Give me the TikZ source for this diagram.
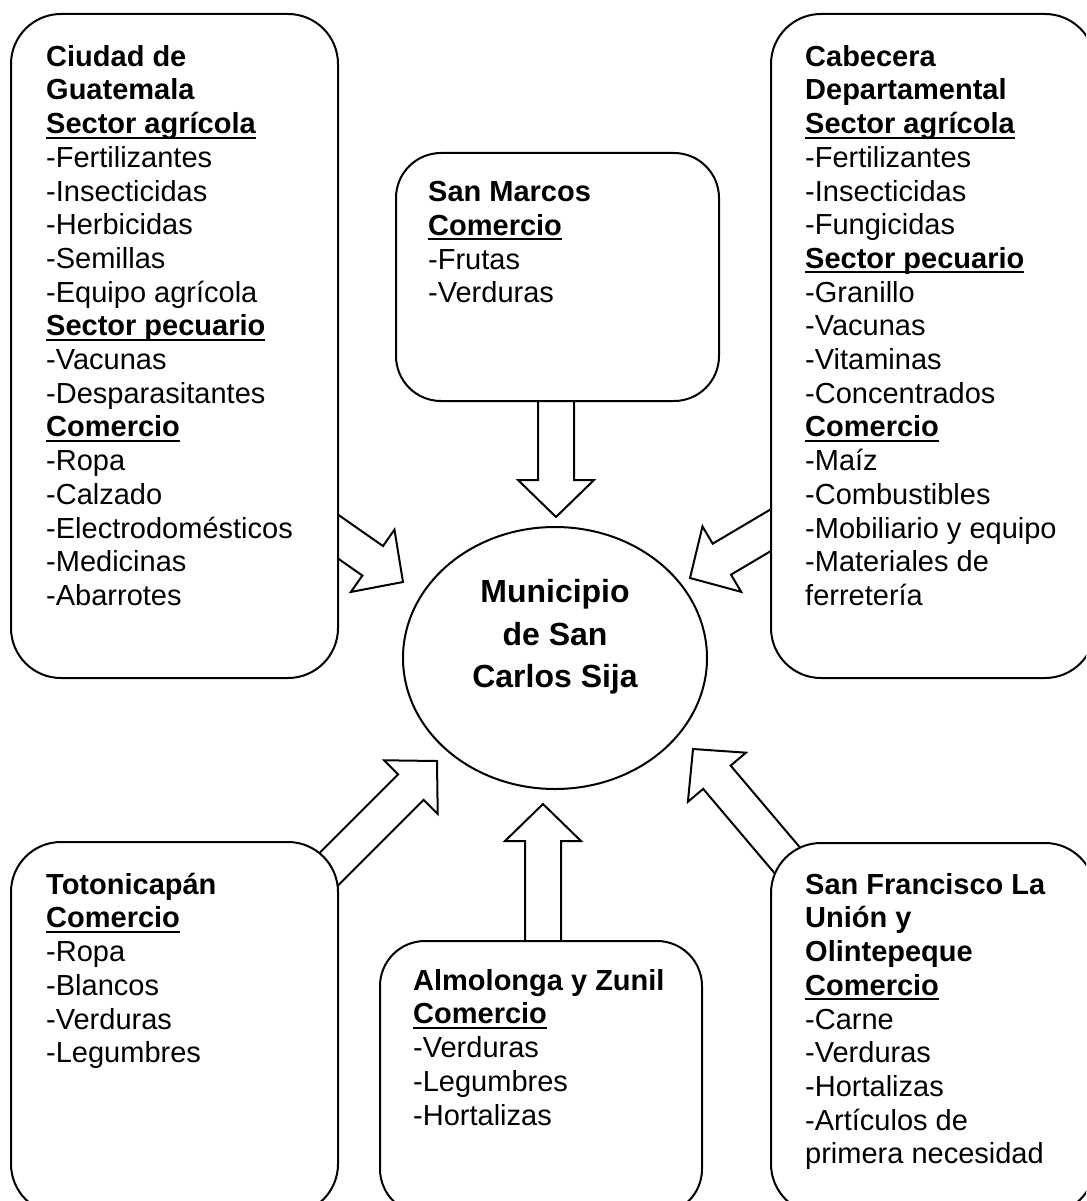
\documentclass[tikz,border=0pt]{standalone}
\usepackage{fontspec}
\setmainfont{Liberation Sans}
\usetikzlibrary{calc,shapes.geometric}

% fett und unterstrichen
\newsavebox\rubrobox
\newcommand\rubro[1]{\sbox\rubrobox{\bfseries #1}\usebox\rubrobox\llap{\rule[-5pt]{\wd\rubrobox}{2pt}}}
% Blockpfeil: #1 Anfang, #2 Spitze
\newcommand\flecha[2]{%
  \coordinate (hb) at ($(#2)!37pt!(#1)$);
  \draw[bigarrow] ($(#1)!18pt!-90:(#2)$) -- ($(hb)!18pt!90:(#1)$) -- ($(hb)!38pt!90:(#1)$)
    -- (#2) -- ($(hb)!38pt!-90:(#1)$) -- ($(hb)!18pt!-90:(#1)$) -- ($(#1)!18pt!90:(#2)$) -- cycle;}

\begin{document}
\begin{tikzpicture}[x=1pt,y=-1pt,
  caja/.style={draw,line width=2pt,rounded corners=50pt,fill=white,anchor=north west,inner sep=0pt},
  txt/.style={anchor=north west,inner sep=0pt,align=left,font=\fontsize{29}{33.7}\selectfont},
  bigarrow/.style={draw,line width=2pt,fill=white,line join=miter}]
  \useasboundingbox (0,0) rectangle (1086,1201);
  \clip (0,0) rectangle (1086,1201);
  % Pfeile
  \coordinate (guate-a) at (300,510);   \coordinate (muni-a) at (403,582);
  \coordinate (marcos-a) at (556,380);  \coordinate (muni-b) at (556,517);
  \coordinate (cabe-a) at (810,507);    \coordinate (muni-c) at (690,578);
  \coordinate (toto-a) at (310,888);    \coordinate (muni-d) at (437,761);
  \coordinate (almo-a) at (543,980);    \coordinate (muni-e) at (543,804);
  \coordinate (sanfra-a) at (809,886);  \coordinate (muni-f) at (693,749);
  \flecha{guate-a}{muni-a}
  \flecha{marcos-a}{muni-b}
  \flecha{cabe-a}{muni-c}
  \flecha{toto-a}{muni-d}
  \flecha{almo-a}{muni-e}
  \flecha{sanfra-a}{muni-f}
  % Kaesten
  \node[caja,minimum width=327pt,minimum height=664pt] (guate) at (10,13) {};
  \node[caja,minimum width=323pt,minimum height=248pt,rounded corners=45pt] (marcos) at (395,152) {};
  \node[caja,minimum width=324pt,minimum height=664pt] (cabe) at (770,13) {};
  \node[caja,minimum width=327pt,minimum height=372pt] (toto) at (10,841) {};
  \node[caja,minimum width=322pt,minimum height=273pt,rounded corners=45pt] (almo) at (379,940) {};
  \node[caja,minimum width=324pt,minimum height=371pt] (sanfra) at (770,842) {};
  \node[draw,line width=2pt,fill=white,ellipse,minimum width=304pt,minimum height=262pt] (muni) at (555,658) {};
  % Texte
  \node[txt] (guatetxt) at (46,42) {\rule{0pt}{24pt}\textbf{Ciudad de}\\ \textbf{Guatemala}\\ \rubro{Sector agrícola}\\
    -Fertilizantes\\ -Insecticidas\\ -Herbicidas\\ -Semillas\\ -Equipo agrícola\\ \rubro{Sector pecuario}\\
    -Vacunas\\ -Desparasitantes\\ \rubro{Comercio}\\ -Ropa\\ -Calzado\\ -Electrodomésticos\\ -Medicinas\\ -Abarrotes};
  \node[txt] (marcostxt) at (428,177.5) {\rule{0pt}{24pt}\textbf{San Marcos}\\ \rubro{Comercio}\\ -Frutas\\ -Verduras};
  \node[txt] (cabetxt) at (805,42) {\rule{0pt}{24pt}\textbf{Cabecera}\\ \textbf{Departamental}\\ \rubro{Sector agrícola}\\
    -Fertilizantes\\ -Insecticidas\\ -Fungicidas\\ \rubro{Sector pecuario}\\ -Granillo\\ -Vacunas\\ -Vitaminas\\
    -Concentrados\\ \rubro{Comercio}\\ -Maíz\\ -Combustibles\\ -Mobiliario y equipo\\ -Materiales de\\ ferretería};
  \node[txt] (tototxt) at (46,870) {\rule{0pt}{24pt}\textbf{Totonicapán}\\ \rubro{Comercio}\\ -Ropa\\ -Blancos\\ -Verduras\\ -Legumbres};
  \node[txt] (almotxt) at (413,966) {\rule{0pt}{24pt}\textbf{Almolonga y Zunil}\\ \rubro{Comercio}\\ -Verduras\\ -Legumbres\\ -Hortalizas};
  \node[txt] (sanfratxt) at (805,870) {\rule{0pt}{24pt}\textbf{San Francisco La}\\ \textbf{Unión y}\\ \textbf{Olintepeque}\\ \rubro{Comercio}\\
    -Carne\\ -Verduras\\ -Hortalizas\\ -Artículos de\\ primera necesidad};
  \node[anchor=north,inner sep=0pt,align=center,font=\fontsize{32}{42.3}\selectfont\bfseries] (munitxt) at (555,576.7)
    {\rule{0pt}{26pt}Municipio\\ de San\\ Carlos Sija};
\end{tikzpicture}
\end{document}
